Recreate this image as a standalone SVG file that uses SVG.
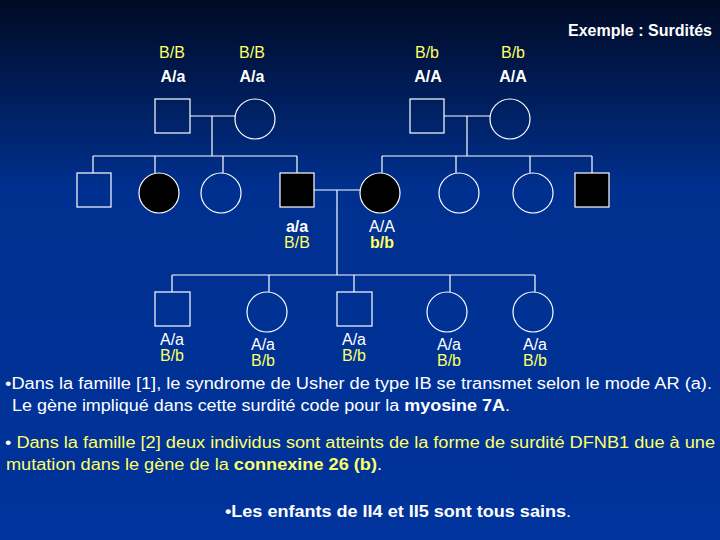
<svg xmlns="http://www.w3.org/2000/svg" width="720" height="540" viewBox="0 0 720 540">
<defs>
<linearGradient id="bg" x1="0" y1="0" x2="0" y2="1">
<stop offset="0" stop-color="#000a24"/>
<stop offset="0.35" stop-color="#00308f"/>
<stop offset="1" stop-color="#00339c"/>
</linearGradient>
</defs>
<style>
text{font-family:"Liberation Sans",Arial,sans-serif;font-size:16px}
.w{fill:#fff}.y{fill:#ffff66}.b{font-weight:bold}
.n{fill:none;stroke:#fff;stroke-width:1.2}
.f{fill:#000;stroke:#fff;stroke-width:1.2}
.c line{stroke:#fff;stroke-width:1.2}
.l{text-anchor:middle}
</style>
<rect width="720" height="540" fill="url(#bg)"/>
<text class="w b" x="712" y="36" text-anchor="end">Exemple : Surdités</text>
<g class="c">
<line x1="190" y1="116" x2="235" y2="116"/><line x1="212" y1="116" x2="212" y2="156"/>
<line x1="93" y1="156" x2="297" y2="156"/>
<line x1="93" y1="156" x2="93" y2="173"/><line x1="155" y1="156" x2="155" y2="173"/><line x1="223" y1="156" x2="223" y2="173"/><line x1="297" y1="156" x2="297" y2="173"/>
<line x1="444" y1="116" x2="490" y2="116"/><line x1="467" y1="116" x2="467" y2="156"/>
<line x1="382" y1="156" x2="592" y2="156"/>
<line x1="382" y1="156" x2="382" y2="173"/><line x1="456" y1="156" x2="456" y2="173"/><line x1="530" y1="156" x2="530" y2="173"/><line x1="592" y1="156" x2="592" y2="173"/>
<line x1="314" y1="190" x2="360" y2="190"/><line x1="337" y1="190" x2="337" y2="275"/>
<line x1="172" y1="275" x2="535" y2="275"/>
<line x1="172" y1="275" x2="172" y2="292"/><line x1="269" y1="275" x2="269" y2="292"/><line x1="354" y1="275" x2="354" y2="292"/><line x1="450" y1="275" x2="450" y2="292"/><line x1="535" y1="275" x2="535" y2="292"/>
</g>
<g id="I1"><rect class="n" x="155" y="99" width="35" height="34"/><text class="y l" x="172" y="58">B/B</text><text class="w b l" x="173" y="82">A/a</text></g>
<g id="I2"><circle class="n" cx="255" cy="119" r="20"/><text class="y l" x="252" y="58">B/B</text><text class="w b l" x="252" y="82">A/a</text></g>
<g id="I3"><rect class="n" x="410" y="99" width="34" height="34"/><text class="y l" x="427" y="58">B/b</text><text class="w b l" x="428" y="82">A/A</text></g>
<g id="I4"><circle class="n" cx="510" cy="119" r="20"/><text class="y l" x="513" y="58">B/b</text><text class="w b l" x="513" y="82">A/A</text></g>
<g id="II1"><rect class="n" x="77" y="173" width="34" height="34"/></g>
<g id="II2"><circle class="f" cx="159" cy="193" r="20"/></g>
<g id="II3"><circle class="n" cx="221" cy="193" r="20"/></g>
<g id="II4"><rect class="f" x="280" y="173" width="34" height="34"/><text class="w b l" x="297" y="232">a/a</text><text class="y l" x="297" y="248">B/B</text></g>
<g id="II5"><circle class="f" cx="380" cy="193" r="20"/><text class="w l" x="382" y="232">A/A</text><text class="y b l" x="382" y="248">b/b</text></g>
<g id="II6"><circle class="n" cx="459" cy="193" r="20"/></g>
<g id="II7"><circle class="n" cx="533" cy="193" r="20"/></g>
<g id="II8"><rect class="f" x="575" y="173" width="34" height="34"/></g>
<g id="III1"><rect class="n" x="155" y="292" width="35" height="34"/><text class="w l" x="172" y="345">A/a</text><text class="y l" x="172" y="361">B/b</text></g>
<g id="III2"><circle class="n" cx="267" cy="312" r="20"/><text class="w l" x="263" y="350">A/a</text><text class="y l" x="263" y="366">B/b</text></g>
<g id="III3"><rect class="n" x="337" y="292" width="35" height="34"/><text class="w l" x="354" y="345">A/a</text><text class="y l" x="354" y="361">B/b</text></g>
<g id="III4"><circle class="n" cx="447" cy="312" r="20"/><text class="w l" x="449" y="350">A/a</text><text class="y l" x="449" y="366">B/b</text></g>
<g id="III5"><circle class="n" cx="533" cy="312" r="20"/><text class="w l" x="535" y="350">A/a</text><text class="y l" x="535" y="366">B/b</text></g>
<text class="w" x="5" y="389" textLength="707" lengthAdjust="spacingAndGlyphs">•Dans la famille [1], le syndrome de Usher de type IB se transmet selon le mode AR (a).</text>
<text class="w" x="12" y="411" textLength="498" lengthAdjust="spacingAndGlyphs">Le gène impliqué dans cette surdité code pour la <tspan font-weight="bold">myosine 7A</tspan>.</text>
<text class="y" x="5" y="448" textLength="710" lengthAdjust="spacingAndGlyphs"><tspan class="w">• </tspan> Dans la famille [2] deux individus sont atteints de la forme de surdité DFNB1 due à une</text>
<text class="y" x="6" y="470" textLength="376" lengthAdjust="spacingAndGlyphs">mutation dans le gène de la <tspan font-weight="bold">connexine 26 (b)</tspan><tspan class="w">.</tspan></text>
<text class="w b" x="225" y="517" textLength="346" lengthAdjust="spacingAndGlyphs">•Les enfants de II4 et II5 sont tous sains<tspan font-weight="normal">.</tspan></text>
</svg>
